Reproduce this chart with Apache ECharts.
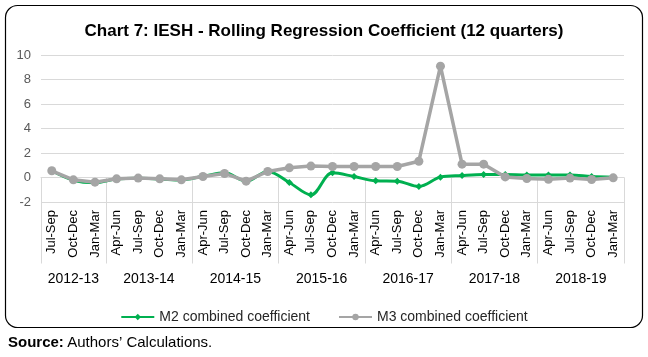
<!DOCTYPE html>
<html><head><meta charset="utf-8">
<script src="https://cdn.jsdelivr.net/npm/echarts@6/dist/echarts.min.js"></script>
<style>html,body{margin:0;padding:0;background:#fff}#c{width:648px;height:357px}</style>
</head><body><div id="c"></div>
<script>
const quarters = ['Jul-Sep','Oct-Dec','Jan-Mar',
  'Apr-Jun','Jul-Sep','Oct-Dec','Jan-Mar',
  'Apr-Jun','Jul-Sep','Oct-Dec','Jan-Mar',
  'Apr-Jun','Jul-Sep','Oct-Dec','Jan-Mar',
  'Apr-Jun','Jul-Sep','Oct-Dec','Jan-Mar',
  'Apr-Jun','Jul-Sep','Oct-Dec','Jan-Mar',
  'Apr-Jun','Jul-Sep','Oct-Dec','Jan-Mar'];
const years = ['2012-13','2013-14','2014-15','2015-16','2016-17','2017-18','2018-19'];
const yearSizes = [3,4,4,4,4,4,4];
const m2 = [0.55,-0.22,-0.42,-0.12,-0.06,-0.12,-0.2,0.1,0.38,-0.3,0.5,
  -0.41,-1.41,0.38,0.08,-0.27,-0.3,-0.73,0.03,0.16,0.24,0.24,0.2,0.2,0.2,0.08,0.03];
const m3 = [0.55,-0.19,-0.38,-0.11,-0.05,-0.11,-0.19,0.08,0.33,-0.3,0.49,
  0.79,0.93,0.9,0.9,0.9,0.9,1.33,9.09,1.09,1.09,0.05,-0.08,-0.14,-0.05,-0.16,-0.03];
const yTicks = {min:-2, max:10, step:2};

const starts = []; const centers = {};
let acc = 0;
yearSizes.forEach((s,i)=>{ starts.push(acc); centers[(acc + s/2).toFixed(1)] = years[i]; acc += s; });

const FF = 'Liberation Sans, Arial, sans-serif';
const chart = echarts.init(document.getElementById('c'), null, {renderer:'canvas'});
chart.setOption({
  animation:false,
  textStyle:{fontFamily:FF},
  title:{text:'Chart 7: IESH - Rolling Regression Coefficient (12 quarters)', left:'center', top:18,
    textStyle:{fontFamily:FF, fontSize:17, fontWeight:'bold', color:'#000'}},
  graphic:[
    {type:'rect', shape:{x:5.5,y:5.5,width:637,height:322,r:12}, style:{fill:'none',stroke:'#000',lineWidth:1.2}, z:-1},
    {type:'text', left:8, top:335, style:{rich:{b:{fontWeight:'bold',fontSize:15,fontFamily:FF,fill:'#000'},n:{fontSize:15,fontFamily:FF,fill:'#000'}}, text:'{b|Source:} {n|Authors\u2019 Calculations.}'}}
  ],
  grid:{left:41, right:24, top:55, bottom:155},
  legend:{top:305, left:'center', itemWidth:33, itemHeight:8, itemGap:28,
    textStyle:{fontFamily:FF, fontSize:14, color:'#262626'},
    data:['M2 combined coefficient','M3 combined coefficient']},
  xAxis:[
    {type:'category', data:quarters, boundaryGap:true,
     axisLine:{lineStyle:{color:'#d9d9d9'}},
     axisTick:{show:true, length:86, lineStyle:{color:'#d9d9d9'}, interval:(idx)=>starts.indexOf(idx) >= 0},
     axisLabel:{rotate:90, interval:0, margin:8, fontSize:13, color:'#000', fontFamily:FF}},
    {type:'value', min:0, max:quarters.length, interval:0.5, position:'bottom', offset:62,
     axisLine:{show:false}, axisTick:{show:false}, splitLine:{show:false},
     axisLabel:{margin:8, fontSize:14, color:'#000', fontFamily:FF,
       formatter:(v)=> centers[v.toFixed(1)] || ''}}
  ],
  yAxis:{type:'value', min:yTicks.min, max:yTicks.max, interval:yTicks.step,
    axisLine:{show:false}, axisTick:{show:false},
    splitLine:{lineStyle:{color:'#d9d9d9'}},
    axisLabel:{fontSize:13, color:'#595959', margin:10, fontFamily:FF}},
  series:[
    {name:'M2 combined coefficient', type:'line', data:m2, smooth:0.35,
     symbol:'diamond', symbolSize:7, showAllSymbol:true,
     lineStyle:{color:'#00b050', width:3}, itemStyle:{color:'#00b050'}},
    {name:'M3 combined coefficient', type:'line', data:m3,
     symbol:'circle', symbolSize:9, showAllSymbol:true,
     lineStyle:{color:'#a5a5a5', width:3.5}, itemStyle:{color:'#a5a5a5'}}
  ]
});
</script></body></html>
